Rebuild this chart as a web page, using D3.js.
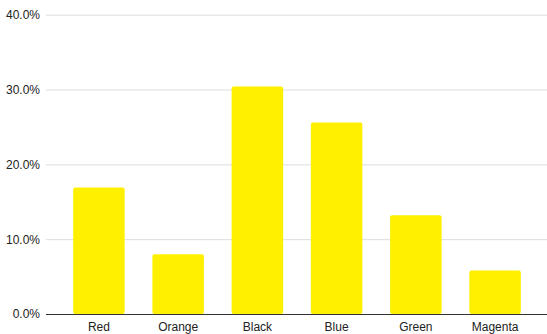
<!DOCTYPE html>
<html>
<head>
<meta charset="utf-8">
<script src="https://cdn.jsdelivr.net/npm/d3@7"></script>
<style>
  html, body { margin: 0; padding: 0; background: #fff; }
  svg { display: block; }
</style>
</head>
<body>
<svg id="chart" width="547" height="334"></svg>
<script>
// Share of responses per colour category
const categories = ["Red", "Orange", "Black", "Blue", "Green", "Magenta"];
const shares = [0.169, 0.080, 0.304, 0.256, 0.132, 0.058];
const yTicks = [0, 0.1, 0.2, 0.3, 0.4];

const svg = d3.select("#chart");
const font = "'Liberation Sans', Arial, sans-serif";

const x = d3.scaleBand()
  .domain(categories)
  .range([47, 547])
  .paddingInner(0.35)
  .paddingOuter(0.33);

const y = d3.scaleLinear()
  .domain([0, 0.4])
  .range([314, 14.7]);

// Horizontal gridlines with percentage labels
const yAxis = d3.axisLeft(y)
  .tickValues(yTicks)
  .tickFormat(d3.format(".1%"))
  .tickSize(-(547 - 46))
  .tickPadding(6);

const gy = svg.append("g")
  .attr("transform", "translate(46,0)")
  .call(yAxis);
gy.select(".domain").remove();
gy.selectAll(".tick line").attr("stroke", "#dcdcdc").attr("stroke-width", 1);
gy.selectAll(".tick text")
  .attr("fill", "#222")
  .style("font-family", font)
  .style("font-size", "12px");

// Bars
svg.append("g")
  .selectAll("rect")
  .data(categories)
  .join("rect")
  .attr("x", d => x(d))
  .attr("width", x.bandwidth())
  .attr("y", (d, i) => y(shares[i]))
  .attr("height", (d, i) => y(0) - y(shares[i]))
  .attr("rx", 2)
  .attr("fill", "#fff000");

// Category axis along the baseline
const xAxis = d3.axisBottom(x).tickSize(0).tickPadding(8);
const gx = svg.append("g")
  .attr("transform", `translate(0,${y(0)})`)
  .call(xAxis);
gx.select(".domain")
  .attr("d", `M46,0.5H547`)
  .attr("stroke", "#333")
  .attr("stroke-width", 1);
gx.selectAll(".tick text")
  .attr("fill", "#222")
  .style("font-family", font)
  .style("font-size", "12px");
</script>
</body>
</html>
